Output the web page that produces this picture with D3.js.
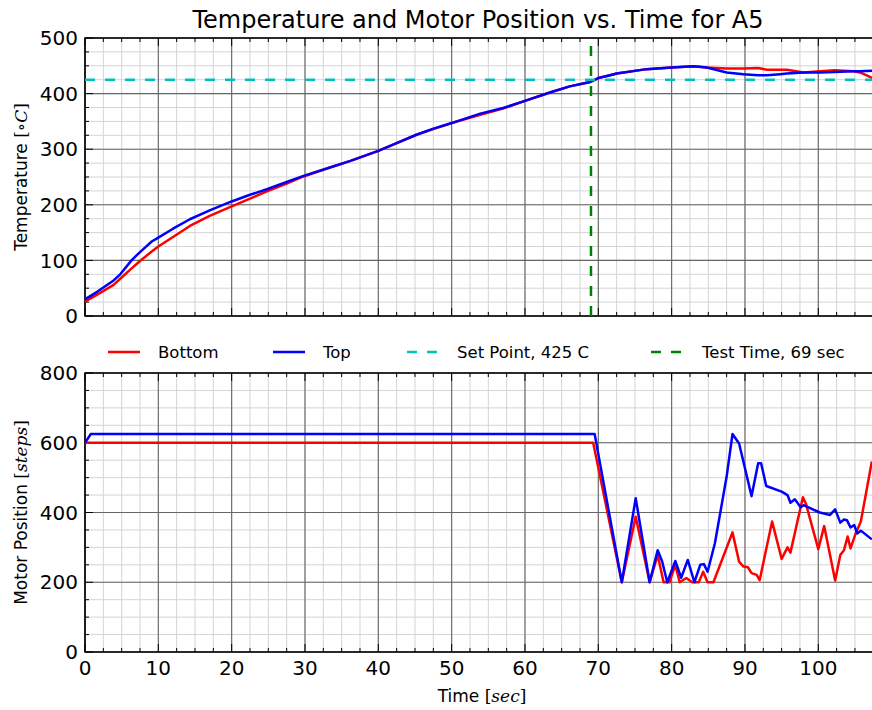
<!DOCTYPE html>
<html>
<head>
<meta charset="utf-8">
<script src="https://cdn.jsdelivr.net/npm/d3@7"></script>
<style>
  body { margin: 0; background: #fff; }
  svg { display: block; font-family: "DejaVu Sans", sans-serif; }
</style>
</head>
<body>
<div id="chart"></div>
<script>
// temperature readings, deg C
const tempTime = [0, 1.6, 3.9, 4.8, 6.4, 7.5, 9.1, 10, 12, 14.3, 17, 20, 22.5, 24.8, 27.5, 29.8, 33.4, 36.2, 40, 42.5, 45.2, 47.5, 50, 53.9, 57, 60, 63.4, 66.1, 68.9, 70, 71.6, 72.5, 76.6, 80, 83, 84.8, 87.5, 89.8, 91.8, 93, 94.8, 95.7, 98, 100.3, 102.2, 104.8, 105.7, 107.5];
const tempBottom = [26, 38, 56, 67, 86, 99, 116, 125, 142, 162, 180, 197, 211, 224, 238, 251, 267, 279, 297, 311, 326, 336, 347, 362, 373, 387, 402, 413, 421, 428, 433, 436, 444, 447, 449, 447, 445, 445, 446, 443, 443, 443, 438, 440, 442, 440, 438, 427];
const tempTop = [30, 43, 64, 75, 101, 115, 134, 141, 157, 174, 190, 206, 218, 228, 241, 252, 267, 279, 297, 311, 326, 337, 347, 364, 374, 387, 402, 413, 421, 428, 433, 436, 444, 447, 449, 447, 438, 435, 433, 433, 435, 436, 438, 438, 439, 440, 440, 441];

// motor position readings, steps
const motorTimeBottom = [0, 69.3, 73.2, 75.1, 77, 78.1, 78.9, 79.7, 80.5, 81.1, 82, 82.8, 83.7, 84.3, 84.9, 85.7, 88.3, 89.2, 89.8, 90.4, 90.9, 91.6, 92, 93.7, 95, 95.8, 96.2, 97.9, 98.3, 100, 100.8, 102.3, 103, 103.5, 104, 104.4, 105.1, 105.8, 107.3];
const motorBottom = [600, 600, 200, 388, 200, 278, 200, 200, 250, 200, 212, 200, 200, 230, 200, 200, 343, 259, 245, 243, 226, 221, 206, 374, 267, 300, 285, 444, 426, 295, 361, 205, 278, 292, 331, 297, 340, 374, 546];
const motorTimeTop = [0, 0.8, 69.5, 73.2, 75.1, 77, 78.1, 78.7, 79.4, 80.5, 81.3, 82.2, 83.1, 83.9, 84.4, 84.9, 85.9, 87.5, 88.3, 89.2, 90.9, 91.8, 92.2, 92.9, 95, 95.8, 96.2, 96.8, 97.6, 98, 100.2, 101.6, 102.3, 103, 103.5, 103.9, 104.4, 104.9, 105.3, 105.8, 107.3];
const motorTop = [600, 625, 625, 200, 441, 200, 292, 260, 200, 261, 213, 264, 200, 250, 252, 230, 312, 503, 625, 598, 447, 541, 541, 476, 460, 450, 428, 438, 415, 421, 400, 393, 409, 371, 380, 378, 357, 364, 340, 348, 323];

const setPoint = 425;
const testTime = 69;

const tempTicks = [0, 100, 200, 300, 400, 500];
const motorTicks = [0, 200, 400, 600, 800];
const timeTicks = [0, 10, 20, 30, 40, 50, 60, 70, 80, 90, 100];

const legendItems = [
  {label: "Bottom", color: "#ff0000", dash: null},
  {label: "Top", color: "#0000ff", dash: null},
  {label: "Set Point, 425 C", color: "#00bfbf", dash: "10,10"},
  {label: "Test Time, 69 sec", color: "#008000", dash: "10,10"}
];

const W = 872, H = 710;
const svg = d3.select("#chart").append("svg")
  .attr("width", W).attr("height", H);

const x = d3.scaleLinear().domain([0, 110]).range([85, 85 + 110 * 7.333]);
const yTemp = d3.scaleLinear().domain([0, 500]).range([316, 38]);
const yMotor = d3.scaleLinear().domain([0, 800]).range([652, 373]);

function panel(id, y, majors, minorStep, showX) {
  const g = svg.append("g");
  const [y0, y1] = y.range();
  const x0 = x.range()[0], x1 = x.range()[1];
  const xMinor = d3.range(0, 110.01, 2.5);
  const yMinor = d3.range(y.domain()[0], y.domain()[1] + 0.01, minorStep);

  // minor grid
  g.append("g").selectAll("line").data(xMinor).join("line")
    .attr("x1", d => x(d)).attr("x2", d => x(d)).attr("y1", y0).attr("y2", y1)
    .attr("stroke", "#d4d4d4").attr("stroke-width", 1);
  g.append("g").selectAll("line").data(yMinor).join("line")
    .attr("x1", x0).attr("x2", x1).attr("y1", d => y(d)).attr("y2", d => y(d))
    .attr("stroke", "#d4d4d4").attr("stroke-width", 1);
  // major grid
  g.append("g").selectAll("line").data(timeTicks).join("line")
    .attr("x1", d => x(d)).attr("x2", d => x(d)).attr("y1", y0).attr("y2", y1)
    .attr("stroke", "#666").attr("stroke-width", 1.1);
  g.append("g").selectAll("line").data(majors).join("line")
    .attr("x1", x0).attr("x2", x1).attr("y1", d => y(d)).attr("y2", d => y(d))
    .attr("stroke", "#666").attr("stroke-width", 1.1);

  // inward ticks
  const tick = (sel) => sel.attr("stroke", "#000").attr("stroke-width", 1);
  g.append("g").selectAll("line").data(xMinor).join("line")
    .attr("x1", d => x(d)).attr("x2", d => x(d)).attr("y1", y0).attr("y2", d => y0 - (d % 10 === 0 ? 8 : 4)).call(tick);
  g.append("g").selectAll("line").data(xMinor).join("line")
    .attr("x1", d => x(d)).attr("x2", d => x(d)).attr("y1", y1).attr("y2", d => y1 + (d % 10 === 0 ? 8 : 4)).call(tick);
  g.append("g").selectAll("line").data(yMinor).join("line")
    .attr("x1", x0).attr("x2", d => x0 + (majors.includes(d) ? 8 : 4)).attr("y1", d => y(d)).attr("y2", d => y(d)).call(tick);

  // spines (right edge falls outside the picture)
  g.append("path")
    .attr("d", `M${x1},${y1}H${x0}V${y0}H${x1}`)
    .attr("fill", "none").attr("stroke", "#000").attr("stroke-width", 1.6);

  // tick labels
  g.append("g").selectAll("text").data(majors).join("text")
    .attr("x", x0 - 7).attr("y", d => y(d)).attr("dy", "0.36em")
    .attr("text-anchor", "end").attr("font-size", 20).attr("fill", "#000")
    .text(d => d);
  if (showX) {
    g.append("g").selectAll("text").data(timeTicks).join("text")
      .attr("x", d => x(d)).attr("y", y0 + 23)
      .attr("text-anchor", "middle").attr("font-size", 20).attr("fill", "#000")
      .text(d => d);
  }

  svg.append("clipPath").attr("id", id)
    .append("rect").attr("x", x0).attr("y", y1).attr("width", x1 - x0).attr("height", y0 - y1);
  return svg.append("g").attr("clip-path", `url(#${id})`);
}

const tempPanel = panel("clipTop", yTemp, tempTicks, 25, false);
const motorPanel = panel("clipBot", yMotor, motorTicks, 50, true);

const lineOf = (ts, y) => d3.line().x((d, i) => x(ts[i])).y(d => y(d));

tempPanel.append("path").datum(tempBottom).attr("d", lineOf(tempTime, yTemp))
  .attr("fill", "none").attr("stroke", "#ff0000").attr("stroke-width", 2.5).attr("stroke-linejoin", "round");
tempPanel.append("path").datum(tempTop).attr("d", lineOf(tempTime, yTemp))
  .attr("fill", "none").attr("stroke", "#0000ff").attr("stroke-width", 2.5).attr("stroke-linejoin", "round");
tempPanel.append("line")
  .attr("x1", x(0)).attr("x2", x(110)).attr("y1", yTemp(setPoint)).attr("y2", yTemp(setPoint))
  .attr("stroke", "#00bfbf").attr("stroke-width", 2.5).attr("stroke-dasharray", "10,10");
tempPanel.append("line")
  .attr("x1", x(testTime)).attr("x2", x(testTime)).attr("y1", yTemp(0)).attr("y2", yTemp(500))
  .attr("stroke", "#008000").attr("stroke-width", 2.5).attr("stroke-dasharray", "10,10");

motorPanel.append("path").datum(motorBottom).attr("d", lineOf(motorTimeBottom, yMotor))
  .attr("fill", "none").attr("stroke", "#ff0000").attr("stroke-width", 2.5).attr("stroke-linejoin", "round");
motorPanel.append("path").datum(motorTop).attr("d", lineOf(motorTimeTop, yMotor))
  .attr("fill", "none").attr("stroke", "#0000ff").attr("stroke-width", 2.5).attr("stroke-linejoin", "round");

// title
svg.append("text").attr("x", 478).attr("y", 28).attr("text-anchor", "middle")
  .attr("font-size", 24).attr("fill", "#000")
  .text("Temperature and Motor Position vs. Time for A5");

// axis labels with math parts
function mathLabel(sel, plain, pre, it, post) {
  sel.append("tspan").text(plain);
  sel.append("tspan").attr("font-family", "DejaVu Serif").text(pre);
  sel.append("tspan").attr("font-family", "DejaVu Serif").attr("font-style", "italic").text(it);
  sel.append("tspan").attr("font-family", "DejaVu Serif").text(post);
}
svg.append("text").attr("transform", `translate(27,${(316 + 38) / 2}) rotate(-90)`)
  .attr("text-anchor", "middle").attr("font-size", 17).attr("fill", "#000")
  .call(mathLabel, "Temperature ", "[\u2218", "C", "]");
svg.append("text").attr("transform", `translate(27,${(652 + 373) / 2}) rotate(-90)`)
  .attr("text-anchor", "middle").attr("font-size", 17).attr("fill", "#000")
  .call(mathLabel, "Motor Position ", "[", "steps", "]");
svg.append("text").attr("x", 482).attr("y", 702)
  .attr("text-anchor", "middle").attr("font-size", 17).attr("fill", "#000")
  .call(mathLabel, "Time ", "[", "sec", "]");

// legend
const legendX = [108, 273, 407, 651];
const leg = svg.append("g").selectAll("g").data(legendItems).join("g")
  .attr("transform", (d, i) => `translate(${legendX[i]},352)`);
leg.append("line").attr("x1", 0).attr("x2", 32).attr("y1", 0).attr("y2", 0)
  .attr("stroke", d => d.color).attr("stroke-width", 2.5)
  .attr("stroke-dasharray", d => d.dash);
leg.append("text").attr("x", (d, i) => i === 3 ? 51 : 50).attr("y", 6)
  .attr("font-size", 16.5).attr("fill", "#000").text(d => d.label);
</script>
</body>
</html>
